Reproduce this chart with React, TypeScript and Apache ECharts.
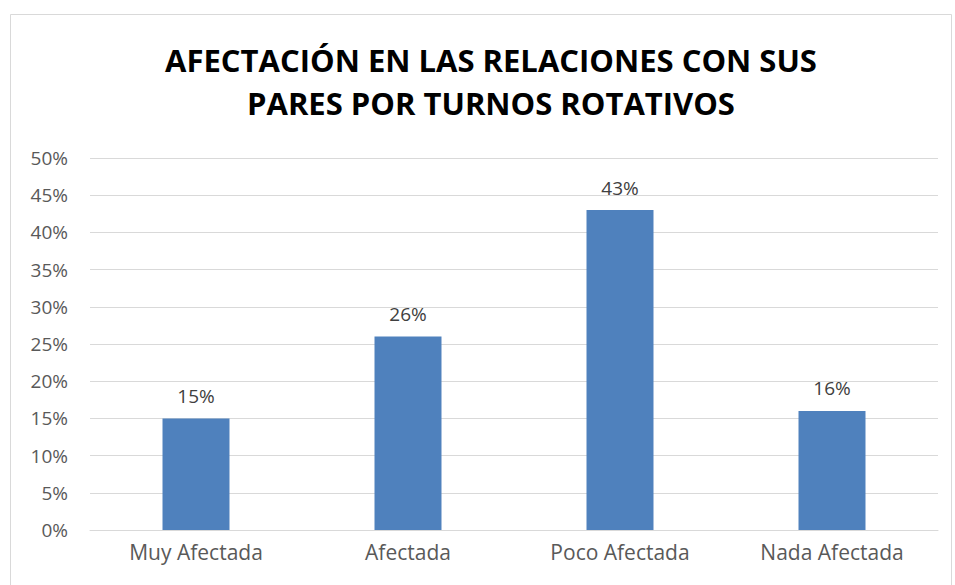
import React, { useEffect, useRef } from "react";
import * as echarts from "echarts";

const categories = ["Muy Afectada", "Afectada", "Poco Afectada", "Nada Afectada"];
const values = [15, 26, 43, 16];
const titleText = "AFECTACIÓN EN LAS RELACIONES CON SUS\nPARES POR TURNOS ROTATIVOS";

export default function App() {
  const ref = useRef<HTMLDivElement>(null);
  useEffect(() => {
    const chart = echarts.init(ref.current!, null, { renderer: "svg" });
    chart.setOption({
      animation: false,
      backgroundColor: "#ffffff",
      title: {
        text: titleText,
        left: 486,
        textAlign: "center",
        top: 33,
        textStyle: {
          fontFamily: "Open Sans",
          fontWeight: "bold",
          fontSize: 31,
          lineHeight: 43,
          color: "#000000",
        },
      },
      graphic: [
        {
          type: "rect",
          shape: { x: 10.5, y: 14.5, width: 941, height: 580 },
          style: { fill: "none", stroke: "#d9d9d9", lineWidth: 1 },
          silent: true,
        },
      ],
      grid: { left: 90, right: 17, top: 158, bottom: 55, containLabel: false },
      xAxis: {
        type: "category",
        data: categories,
        axisLine: { show: true, lineStyle: { color: "#d9d9d9" } },
        axisTick: { show: false },
        axisLabel: { color: "#595959", fontSize: 21, fontFamily: "Open Sans", margin: 11 },
      },
      yAxis: {
        type: "value",
        min: 0,
        max: 50,
        interval: 5,
        axisLine: { show: false },
        axisTick: { show: false },
        splitLine: { lineStyle: { color: "#d9d9d9", width: 1 } },
        axisLabel: {
          color: "#595959",
          fontSize: 19,
          fontFamily: "Open Sans",
          margin: 22,
          formatter: (v: number) => v + "%",
        },
      },
      series: [
        {
          type: "bar",
          data: values,
          barWidth: "31.6%",
          itemStyle: { color: "#4f81bd" },
          label: {
            show: true,
            position: "top",
            distance: 13,
            color: "#404040",
            fontSize: 19,
            fontFamily: "Open Sans",
            formatter: (p: any) => p.value + "%",
          },
        },
      ],
    });
    return () => chart.dispose();
  }, []);
  return <div ref={ref} style={{ width: 955, height: 585, position: "absolute", left: 0, top: 0 }} />;
}
